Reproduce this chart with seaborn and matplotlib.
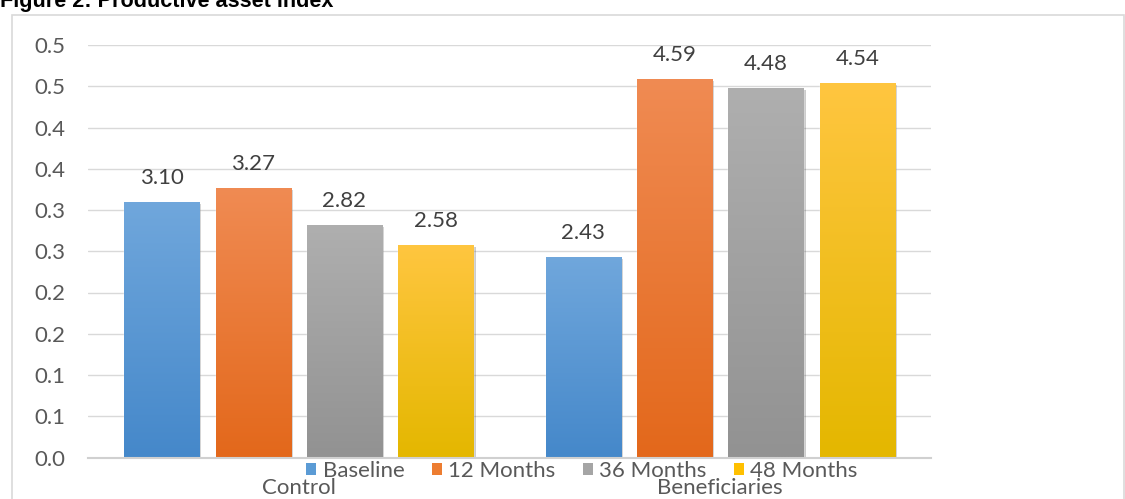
import numpy as np
import pandas as pd
import matplotlib
matplotlib.use("Agg")
import matplotlib.pyplot as plt
import matplotlib.patheffects as pe
import seaborn as sns
from matplotlib.colors import LinearSegmentedColormap
from matplotlib.patches import Rectangle, Patch

# Productive asset index by group and survey round
groups = ["Control", "Beneficiaries"]
periods = ["Baseline", "12 Months", "36 Months", "48 Months"]
baseline = [3.10, 2.43]
months_12 = [3.27, 4.59]
months_36 = [2.82, 4.48]
months_48 = [2.58, 4.54]
y_tick_labels = ["0.0", "0.1", "0.1", "0.2", "0.2", "0.3", "0.3", "0.4", "0.4", "0.5", "0.5"]

# Office-style colours: flat legend colour plus a top/bottom gradient for bars
mid_colors = ["#5B9BD5", "#ED7D31", "#A5A5A5", "#FFC000"]
top_colors = ["#70A7DC", "#F08B53", "#AFAFAF", "#FFC640"]
bottom_colors = ["#4588CA", "#E3681B", "#929292", "#E4B700"]

sns.set_theme(style="white")
plt.rcParams["font.family"] = ["Lato", "DejaVu Sans"]

df = pd.DataFrame({
    "group": groups * 4,
    "period": np.repeat(periods, len(groups)),
    "value": baseline + months_12 + months_36 + months_48,
})

W, H = 1125, 499
fig = plt.figure(figsize=(W / 100, H / 100), dpi=100)
ax = fig.add_axes([88 / W, 41.5 / H, 843 / W, 412.5 / H])

sns.barplot(data=df, x="group", y="value", hue="period", order=groups,
            hue_order=periods, palette=mid_colors, saturation=1,
            width=0.868, gap=0.18, errorbar=None, legend=False, ax=ax)

ax.set_xlim(-0.5, 1.5)
ax.set_ylim(0, 5.0)

grad = np.linspace(0, 1, 256).reshape(-1, 1)
for k, cont in enumerate(ax.containers):
    cmap = LinearSegmentedColormap.from_list(f"g{k}", [bottom_colors[k], top_colors[k]])
    for bar in cont:
        x0, w, h = bar.get_x(), bar.get_width(), bar.get_height()
        bar.set_path_effects([pe.SimplePatchShadow(offset=(1.5, -1.5), shadow_rgbFace="k", alpha=0.22),
                              pe.Normal()])
        im = ax.imshow(grad, cmap=cmap, origin="lower", aspect="auto",
                       extent=[x0, x0 + w, 0, h], zorder=bar.get_zorder() + 0.01,
                       interpolation="bilinear")
        im.set_clip_path(bar)
    ax.bar_label(cont, fmt="%.2f", padding=10, color="#404040", fontsize=16)

ax.set_xlim(-0.5, 1.5)
ax.set_ylim(0, 5.0)

ax.set_axisbelow(True)
ax.yaxis.grid(True, color="#d9d9d9", linewidth=1)
ax.xaxis.grid(False)
for side in ["left", "right", "top"]:
    ax.spines[side].set_visible(False)
ax.spines["bottom"].set_color("#d0d0d0")
ax.spines["bottom"].set_linewidth(1.5)

ax.set_yticks(np.arange(0, 5.01, 0.5))
ax.set_yticklabels(y_tick_labels)
ax.tick_params(axis="y", length=0, pad=16.5, labelsize=16, labelcolor="#595959")
ax.tick_params(axis="x", length=0, pad=15, labelsize=16, labelcolor="#595959")
ax.set_xlabel("")
ax.set_ylabel("")

handles = [Patch(facecolor=c, edgecolor="none") for c in mid_colors]
fig.legend(handles, periods, loc="center", bbox_to_anchor=(582 / W, 1 - 471 / H),
           ncol=4, frameon=False, fontsize=16, labelcolor="#595959",
           handlelength=0.45, handleheight=0.45, handletextpad=0.3,
           columnspacing=1.22, borderpad=0, borderaxespad=0)

# chart frame
fig.add_artist(Rectangle((12 / W, -0.05), 1111.5 / W, (H - 15) / H + 0.05,
                         transform=fig.transFigure, fill=False,
                         edgecolor="#d9d9d9", linewidth=1.2))

fig.text(0.0, 1 - 7 / H, "Figure 2: Productive asset index", fontsize=15.6,
         fontweight="bold", family="Liberation Sans", color="black",
         ha="left", va="baseline")

fig.savefig("out.png", dpi=100)
